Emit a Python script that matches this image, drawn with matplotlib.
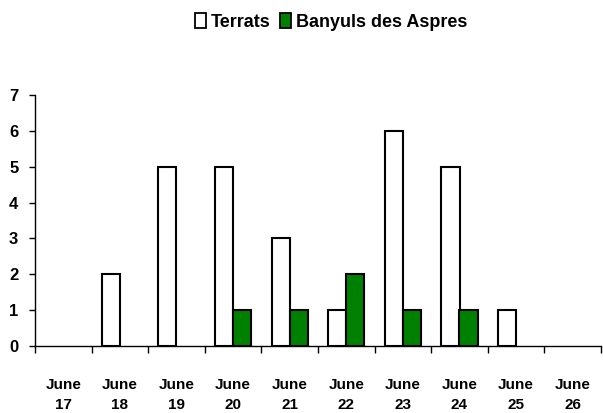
import matplotlib
matplotlib.use("Agg")
import matplotlib.pyplot as plt
import numpy as np
from matplotlib.ticker import FixedLocator, NullFormatter, FixedFormatter
from matplotlib.patches import Patch

plt.rcParams['font.family'] = ['Liberation Sans', 'DejaVu Sans']

categories = ["June\n17", "June\n18", "June\n19", "June\n20", "June\n21",
              "June\n22", "June\n23", "June\n24", "June\n25", "June\n26"]
series_names = ["Terrats", "Banyuls des Aspres"]
terrats = [0, 2, 5, 5, 3, 1, 6, 5, 1, 0]
banyuls = [0, 0, 0, 1, 1, 2, 1, 1, 0, 0]

fig = plt.figure(figsize=(6.03, 4.13), dpi=100)
ax = fig.add_axes([35/603, 1-346/413, (601-35)/603, (346-95)/413])

x = np.arange(len(categories))
w = 0.32
colors = ['white', '#008000']
lw_t = [1.5 if v > 0 else 0 for v in terrats]
lw_b = [1.5 if v > 0 else 0 for v in banyuls]
ax.bar(x - w/2, terrats, w, color=colors[0], edgecolor='black', linewidth=lw_t)
ax.bar(x + w/2, banyuls, w, color=colors[1], edgecolor='black', linewidth=lw_b)

ax.set_xlim(-0.5, len(categories) - 0.5)
ax.set_ylim(0, 7)
ax.set_yticks(range(0, 8))
ax.tick_params(axis='y', labelsize=12, length=4, width=1, pad=8)
for lab in ax.get_yticklabels():
    lab.set_fontweight('bold')

ax.xaxis.set_major_locator(FixedLocator(np.arange(-0.5, len(categories), 1.0)))
ax.xaxis.set_major_formatter(NullFormatter())
ax.xaxis.set_minor_locator(FixedLocator(x))
ax.xaxis.set_minor_formatter(FixedFormatter(categories))
ax.tick_params(axis='x', which='major', length=5, width=1, direction='out')
ax.tick_params(axis='x', which='minor', length=0, labelsize=11, pad=23)
for lab in ax.get_xticklabels(minor=True):
    lab.set_linespacing(1.55)
    lab.set_fontweight('bold')

for s in ['top', 'right']:
    ax.spines[s].set_visible(False)
ax.spines['left'].set_linewidth(1)
ax.spines['bottom'].set_linewidth(1)

handles = [Patch(facecolor=c, edgecolor='black', linewidth=1.3) for c in colors]
fig.legend(handles, series_names, loc='center', bbox_to_anchor=(331/603, 1-22/413),
           ncol=2, frameon=False, prop={'size': 13, 'weight': 'bold'},
           handlelength=0.6, handleheight=0.9, handletextpad=0.3, columnspacing=0.5)

fig.savefig('out.png', dpi=100)
